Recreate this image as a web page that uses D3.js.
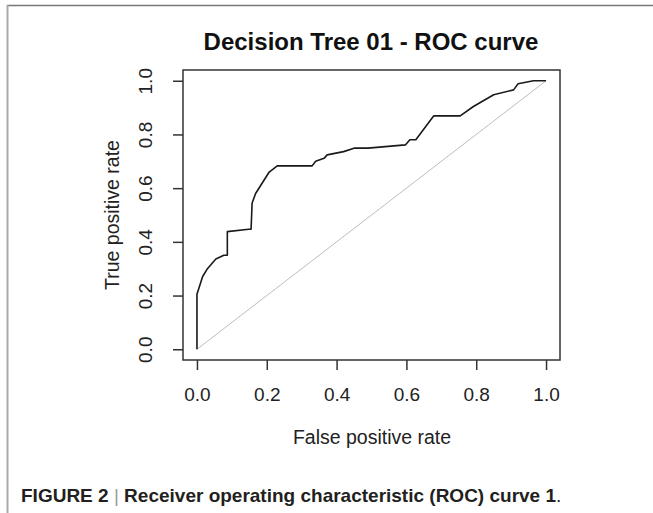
<!DOCTYPE html>
<html>
<head>
<meta charset="utf-8">
<script src="https://cdn.jsdelivr.net/npm/d3@7"></script>
<style>
  body { margin: 0; background: #fff; }
  svg { display: block; }
  text { font-family: "Liberation Sans", Arial, sans-serif; }
</style>
</head>
<body>
<svg id="chart"></svg>
<script>
// ROC curve points
const fpr = [0, 0, 0.016, 0.03, 0.054, 0.077, 0.087, 0.087, 0.148, 0.155, 0.158, 0.168, 0.207, 0.23, 0.33,
  0.34, 0.364, 0.373, 0.42, 0.45, 0.49, 0.597, 0.61, 0.627, 0.678, 0.754, 0.792, 0.85, 0.907, 0.92, 0.964, 1.0]
const tpr = [0, 0.205, 0.27, 0.30, 0.336, 0.35, 0.35, 0.438, 0.447, 0.447, 0.545, 0.58, 0.66, 0.683, 0.683,
  0.70, 0.711, 0.724, 0.736, 0.749, 0.749, 0.761, 0.78, 0.78, 0.869, 0.869, 0.904, 0.948, 0.966, 0.989, 1.0, 1.0]
const ticks = [0, 0.2, 0.4, 0.6, 0.8, 1.0]

const title = 'Decision Tree 01 - ROC curve'
const xTitle = 'False positive rate'
const yTitle = 'True positive rate'

const W = 653, H = 513
const box = { left: 183, right: 560, top: 70, bottom: 360 }

const svg = d3.select('#chart').attr('width', W).attr('height', H)

// figure frame (top rule + left rule)
svg.append('line').attr('x1', 7).attr('x2', W).attr('y1', 5.5).attr('y2', 5.5)
  .attr('stroke', '#777').attr('stroke-width', 1.5)
svg.append('line').attr('x1', 7.5).attr('x2', 7.5).attr('y1', 5).attr('y2', H)
  .attr('stroke', '#aaa').attr('stroke-width', 2)

// R style: 4% padding on each side
const x = d3.scaleLinear().domain([-0.04, 1.04]).range([box.left, box.right])
const y = d3.scaleLinear().domain([-0.04, 1.04]).range([box.bottom, box.top])

const g = svg.append('g')

// diagonal
g.append('line')
  .attr('x1', x(0)).attr('y1', y(0)).attr('x2', x(1)).attr('y2', y(1))
  .attr('stroke', '#bdbdbd').attr('stroke-width', 1)

// curve
const pts = fpr.map((f, i) => [f, tpr[i]])
g.append('path')
  .datum(pts)
  .attr('fill', 'none')
  .attr('stroke', '#1a1a1a')
  .attr('stroke-width', 1.6)
  .attr('stroke-linejoin', 'round')
  .attr('d', d3.line().x(d => x(d[0])).y(d => y(d[1])))

// plot box
g.append('rect')
  .attr('x', box.left).attr('y', box.top)
  .attr('width', box.right - box.left).attr('height', box.bottom - box.top)
  .attr('fill', 'none').attr('stroke', '#333').attr('stroke-width', 1.5)

// axes
const xAxis = d3.axisBottom(x).tickValues(ticks).tickFormat(d3.format('.1f'))
  .tickSizeInner(10).tickSizeOuter(0).tickPadding(18)
const yAxis = d3.axisLeft(y).tickValues(ticks).tickFormat(d3.format('.1f'))
  .tickSizeInner(10).tickSizeOuter(0)

const gx = svg.append('g').attr('transform', `translate(0,${box.bottom})`).call(xAxis)
gx.select('.domain').remove()
gx.selectAll('line').attr('stroke', '#333').attr('stroke-width', 1.5)
gx.selectAll('text').attr('font-size', 19).attr('fill', '#222')
  .attr('font-family', '"Liberation Sans", Arial, sans-serif')

const gy = svg.append('g').attr('transform', `translate(${box.left},0)`).call(yAxis)
gy.select('.domain').remove()
gy.selectAll('line').attr('stroke', '#333').attr('stroke-width', 1.5)
// R draws y labels parallel to the axis (las = 0)
gy.selectAll('text')
  .attr('font-size', 19).attr('fill', '#222')
  .attr('font-family', '"Liberation Sans", Arial, sans-serif')
  .attr('x', null).attr('y', 0).attr('dy', null)
  .attr('text-anchor', 'middle')
  .attr('dominant-baseline', 'central')
  .attr('transform', 'translate(-38,0) rotate(-90)')

// titles
svg.append('text').attr('x', 371).attr('y', 50)
  .attr('text-anchor', 'middle').attr('font-size', 24).attr('font-weight', 'bold')
  .attr('fill', '#111').text(title)

svg.append('text').attr('x', 372).attr('y', 444)
  .attr('text-anchor', 'middle').attr('font-size', 19.5).attr('fill', '#222').text(xTitle)

svg.append('text').attr('transform', `translate(119,${(box.top + box.bottom) / 2}) rotate(-90)`)
  .attr('text-anchor', 'middle').attr('font-size', 19.5).attr('fill', '#222').text(yTitle)

// caption
const cap = svg.append('text').attr('x', 21).attr('y', 502).attr('font-size', 19).attr('fill', '#231f20')
cap.append('tspan').attr('font-weight', 'bold').text('FIGURE 2 ')
cap.append('tspan').attr('fill', '#999').text('|')
cap.append('tspan').attr('font-weight', 'bold').text(' Receiver operating characteristic (ROC) curve 1')
cap.append('tspan').text('.')
</script>
</body>
</html>
